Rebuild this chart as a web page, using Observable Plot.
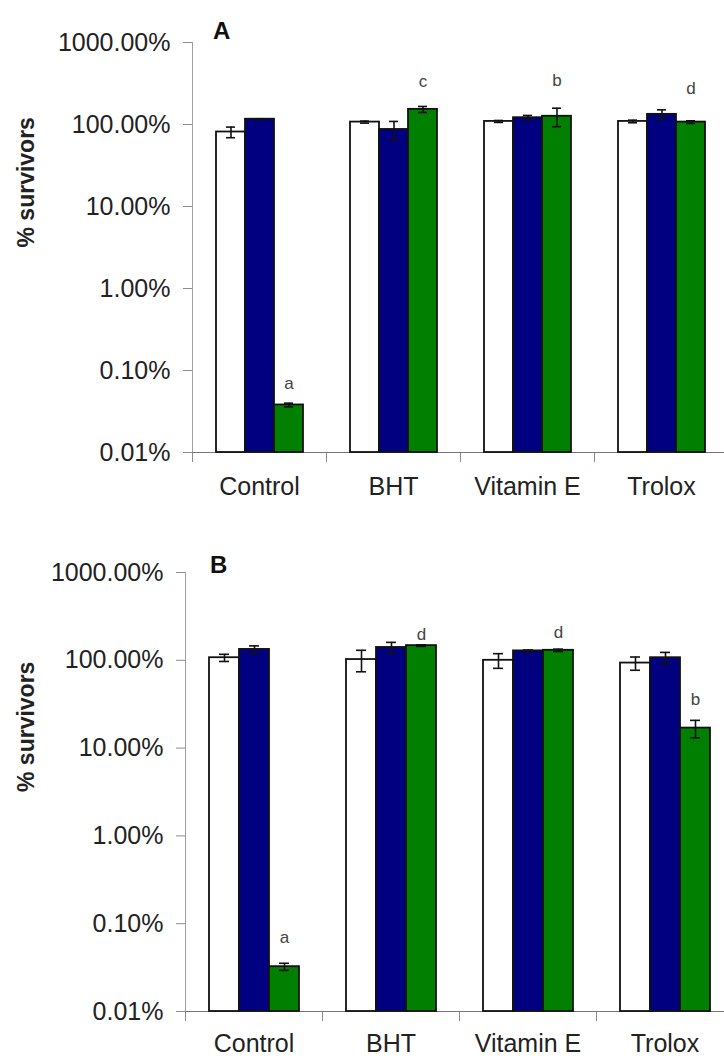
<!DOCTYPE html>
<html><head><meta charset="utf-8">
<script src="https://cdn.jsdelivr.net/npm/d3@7"></script>
<script src="https://cdn.jsdelivr.net/npm/@observablehq/plot@0.6"></script>
<style>
html,body{margin:0;padding:0;background:#fff;}
#wrap{position:relative;width:724px;height:1059px;overflow:hidden;font-family:"Liberation Sans",Arial,sans-serif;}
.panel{position:absolute;left:0;}
.tag{position:absolute;font-weight:bold;font-size:24px;line-height:1;color:#111;}
</style></head><body>
<div id="wrap">
  <div class="panel" id="pa" style="top:0px"></div>
  <div class="panel" id="pb" style="top:530px"></div>
  <div class="tag" style="left:213px;top:19px">A</div>
  <div class="tag" style="left:210px;top:553px">B</div>
</div>
<script>
const categories = ["Control", "BHT", "Vitamin E", "Trolox"];
const seriesKeys = ["s1", "s2", "s3"];
const seriesColors = ["#ffffff", "#000080", "#007f00"];
const yTicks = [0.01, 0.1, 1, 10, 100, 1000];
const yTickLabels = ["0.01%", "0.10%", "1.00%", "10.00%", "100.00%", "1000.00%"];
const yLabel = "% survivors";

// Panel A (values in %)
const aWhite = [81, 107, 109, 109];
const aWhiteErr = [12, 3, 3, 4];
const aNavy = [116, 87, 121, 133];
const aNavyErr = [1.5, 22, 8, 18];
const aGreen = [0.038, 153, 126, 107];
const aGreenErr = [0.002, 13, 32, 4];
const aLetters = ["a", "c", "b", "d"];
const aLetterY = [0.070, 337, 347, 274];

// Panel B (values in %)
const bWhite = [107, 102, 100, 93];
const bWhiteErr = [10, 28, 19, 16];
const bNavy = [133, 140, 128, 107];
const bNavyErr = [13, 20, 3, 16];
const bGreen = [0.0324, 147, 130, 16.9];
const bGreenErr = [0.003, 3, 4, 3.8];
const bLetters = ["a", "d", "d", "b"];
const bLetterY = [0.069, 198, 205, 35.6];

const tickLabelMap = new Map(yTicks.map((v, i) => [v, yTickLabels[i]]));

function buildRows(vals, errs) {
  return categories.flatMap((c, ci) =>
    seriesKeys.map((s, si) => ({category: c, series: s, value: vals[si][ci], err: errs[si][ci]})));
}
function buildLetters(letters, ys) {
  return categories.map((c, ci) => ({category: c, series: seriesKeys[2], y: ys[ci], text: letters[ci]}));
}

function panel({rows, letters, marginLeft, marginRight, marginTop, innerH, marginBottom, labelPad, paddingOuter}) {
  const height = marginTop + innerH + marginBottom;
  const gray = "#8c8c8c";
  return Plot.plot({
    width: 724, height, marginLeft, marginRight, marginTop, marginBottom,
    style: {fontFamily: "Liberation Sans, Arial, sans-serif", background: "transparent", overflow: "visible", color: "#222"},
    fx: {domain: categories, padding: 0, label: null, axis: null},
    x: {domain: seriesKeys, paddingInner: 0, paddingOuter, axis: null},
    y: {type: "log", domain: [0.01, 1000], axis: null},
    color: {domain: seriesKeys, range: seriesColors},
    marks: [
      Plot.frame({anchor: "left", facetAnchor: "left", stroke: "#a0a0a0"}),
      Plot.frame({anchor: "left", insetTop: innerH, insetBottom: -9, stroke: gray}),
      Plot.ruleY([0.01], {stroke: "#777"}),
      Plot.barY(rows, {fx: "category", x: "series", y1: 0.01, y2: "value", fill: "series", stroke: "#111", strokeWidth: 1.8}),
      Plot.ruleX(rows, {fx: "category", x: "series", y1: d => d.value - d.err, y2: d => d.value + d.err, stroke: "#111", strokeWidth: 1.6}),
      Plot.tickY(rows, {fx: "category", x: "series", y: d => d.value + d.err, insetLeft: 10, insetRight: 10, stroke: "#111", strokeWidth: 1.6}),
      Plot.tickY(rows, {fx: "category", x: "series", y: d => d.value - d.err, insetLeft: 10, insetRight: 10, stroke: "#111", strokeWidth: 1.6}),
      Plot.text(letters, {fx: "category", x: "series", y: "y", text: "text", fontSize: 17, fill: "#444"}),
      Plot.axisY({ticks: yTicks, tickFormat: d => tickLabelMap.get(d), tickSize: 9, tickPadding: 13, fontSize: 25, stroke: gray, fill: "#222", label: null}),
      Plot.axisFx({anchor: "bottom", tickSize: 0, tickPadding: labelPad, fontSize: 25, fill: "#222", label: null}),
      Plot.text([yLabel], {text: d => d, frameAnchor: "left", dx: -(marginLeft - 24), rotate: -90, fontSize: 23, fontWeight: "bold", fill: "#222", facetAnchor: "left"})
    ]
  });
}

document.getElementById("pa").append(panel({
  rows: buildRows([aWhite, aNavy, aGreen], [aWhiteErr, aNavyErr, aGreenErr]),
  letters: buildLetters(aLetters, aLetterY),
  marginLeft: 190, marginRight: -5, marginTop: 42, innerH: 410, marginBottom: 78, labelPad: 25, paddingOuter: 0.746
}));
document.getElementById("pb").append(panel({
  rows: buildRows([bWhite, bNavy, bGreen], [bWhiteErr, bNavyErr, bGreenErr]),
  letters: buildLetters(bLetters, bLetterY),
  marginLeft: 183, marginRight: -10, marginTop: 42, innerH: 439, marginBottom: 48, labelPad: 23, paddingOuter: 0.72
}));
</script>
</body></html>
